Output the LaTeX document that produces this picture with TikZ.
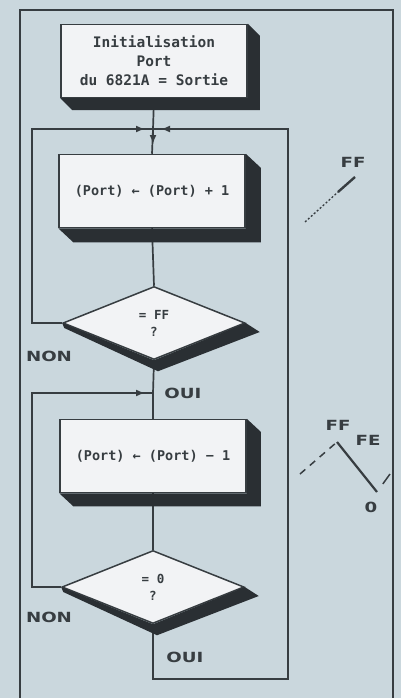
\documentclass[tikz,border=0pt]{standalone}
\usepackage{fontspec}
\setmonofont{DejaVu Sans Mono}
\newfontfamily\lbl[FakeStretch=1.3]{DejaVu Sans}
\usetikzlibrary{shapes.geometric,arrows.meta,calc}
\definecolor{bg}{RGB}{202,215,221}
\definecolor{ink}{RGB}{55,61,65}
\definecolor{boxfill}{RGB}{242,243,245}
\definecolor{shd}{RGB}{42,47,51}
\begin{document}
\begin{tikzpicture}[x=1pt,y=-1pt,
  line/.style={draw=ink,line width=1.7pt},
  procbox/.style={draw=ink,line width=1.5pt,fill=boxfill,minimum width=186pt,minimum height=73pt,inner sep=0pt,align=center,font=\ttfamily\bfseries\fontsize{13.5}{19}\selectfont,text=ink},
  decbox/.style={diamond,draw=ink,line width=1.5pt,fill=boxfill,minimum width=182pt,minimum height=73pt,inner sep=0pt,align=center,font=\ttfamily\bfseries\fontsize{12.5}{17}\selectfont,text=ink},
  lab/.style={font=\lbl\bfseries\fontsize{14}{16}\selectfont,text=ink,inner sep=0pt},
  glab/.style={font=\lbl\bfseries\fontsize{14}{16}\selectfont,text=ink,inner sep=0pt},
  tip/.style={-{Latex[length=9pt,width=7pt]}},
  shadow/.style={fill=shd}
]
\fill[bg] (0,0) rectangle (401,698);
\useasboundingbox (0,0) rectangle (401,698);
% frame
\draw[line] (20,698) -- (20,10) -- (393,10) -- (393,698);

% nodes
\node[procbox,font=\ttfamily\bfseries\fontsize{14.5}{19}\selectfont] (init) at (154,61) {Initialisation\\Port\\du 6821A = Sortie};
\node[procbox] (inc) at (152,191) {(Port) ← (Port) + 1};
\node[decbox] (d1) at (154,323) {= FF\\?};
\node[procbox] (dec) at (153,456) {(Port) ← (Port) − 1};
\node[decbox] (d2) at (153,587) {= 0\\?};

\coordinate (j1) at (153,129);
\coordinate (j2) at (153,393);
\coordinate (l1) at (32,129);
\coordinate (l2) at (32,393);
\coordinate (r1) at (288,129);
\coordinate (bot) at (153,679);

% connectors
\draw[line] (init.south) -- (j1) -- (inc.north);
\draw[line,tip] (j1) -- (153,144);
\draw[line] (inc.south) -- (d1.north);
\draw[line] (d1.west) -| (l1) -- (j1);
\draw[line,tip] (l1) -- (145,129);
\draw[line] (d1.south) -- (j2) -- (dec.north);
\draw[line] (dec.south) -- (d2.north);
\draw[line] (d2.west) -| (l2) -- (j2);
\draw[line,tip] (l2) -- (145,393);
\draw[line] (d2.south) -- (bot) -| (r1) -- (j1);
\draw[line,tip] (r1) -- (161,129);

% shadows
\foreach \n/\dx/\dy in {init/12/12,inc/15/14,dec/14/13}{
  \fill[shadow] (\n.south west) -- ++(\dx,\dy) -- ($(\n.south east)+(\dx,\dy)$) -- ($(\n.north east)+(\dx,\dy)$) -- (\n.north east) -- (\n.south east) -- cycle;
}
\foreach \n in {d1,d2}{
  \fill[shadow] (\n.west) -- ($(\n.west)+(2,5)$) -- ($(\n.south)+(4,11)$) -- ($(\n.east)+(14,9)$) -- (\n.east) -- (\n.south) -- cycle;
}

% labels
\node[lab] (non1) at (49,356) {NON};
\node[lab] (oui1) at (183,393) {OUI};
\node[lab] (non2) at (49,617) {NON};
\node[lab] (oui2) at (185,657) {OUI};

% graph 1
\coordinate (g1a) at (305,222);
\coordinate (g1b) at (338,192);
\coordinate (g1c) at (355,177);
\draw[ink,line width=1.3pt,dash pattern=on 2pt off 2pt] (g1a) -- (g1b);
\draw[ink,line width=2.4pt] (g1b) -- (g1c);
\node[glab] (ff1) at (353,162) {FF};

% graph 2
\coordinate (p0) at (300,474);
\coordinate (pk) at (337,442);
\coordinate (pz) at (377,492);
\coordinate (pe) at (390,474);
\draw[ink,line width=1.5pt,dash pattern=on 7pt off 6pt] (p0) -- (pk);
\draw[ink,line width=2.2pt] (pk) -- (pz);
\draw[ink,line width=1.5pt] ($(pz)!0.45!(pe)$) -- (pe);
\node[glab] (ff2) at (338,425) {FF};
\node[glab] (fe2) at (368,440) {FE};
\node[glab] (z2) at (371,507) {0};
\end{tikzpicture}
\end{document}
